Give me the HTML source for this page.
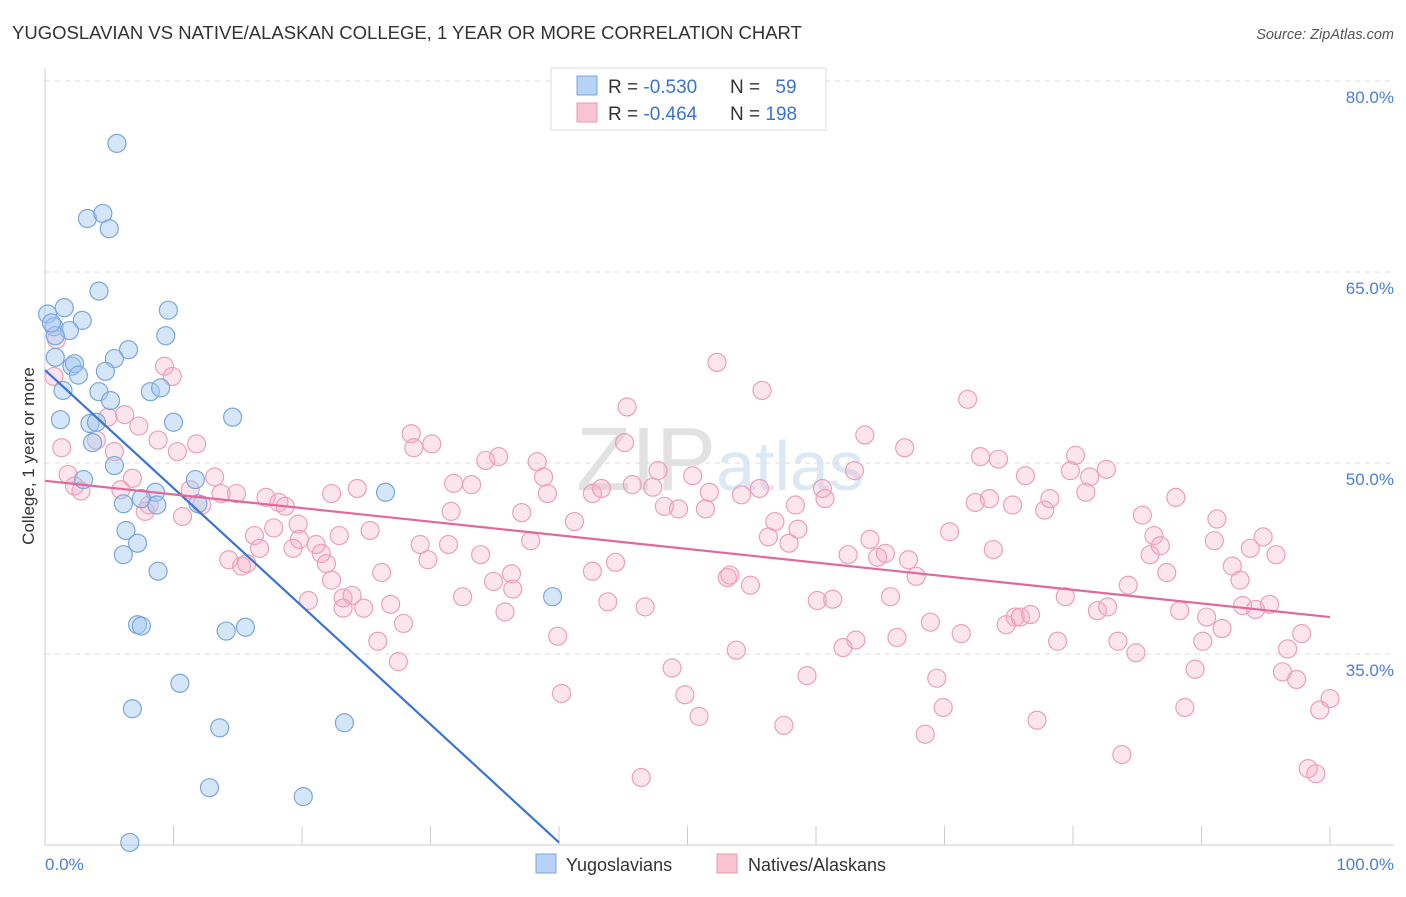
<!DOCTYPE html>
<html><head><meta charset="utf-8"><style>
body{margin:0;background:#fff;font-family:"Liberation Sans",sans-serif;}
svg text{font-family:"Liberation Sans",sans-serif;}
</style></head><body>
<svg id="chart" width="1406" height="892" viewBox="0 0 1406 892" xmlns="http://www.w3.org/2000/svg">
<text x="12" y="39" font-size="18.5" fill="#333">YUGOSLAVIAN VS NATIVE/ALASKAN COLLEGE, 1 YEAR OR MORE CORRELATION CHART</text>
<text x="1394" y="39" font-size="14.5" fill="#555" font-style="italic" text-anchor="end">Source: ZipAtlas.com</text>
<text x="720" y="490" font-size="90" fill="#e6e6e6" text-anchor="middle" font-family="Liberation Serif"><tspan fill="#e2e2e2">ZIP</tspan><tspan fill="#dce8f6" font-family="Liberation Sans" font-size="70">atlas</tspan></text>
<g id="grid"></g>
<g id="axes"></g>
<g id="pink"></g>
<g id="blue"></g>
<g id="lines"></g>
<text transform="translate(34,456) rotate(-90)" font-size="17" fill="#333" text-anchor="middle">College, 1 year or more</text>
<text x="45" y="870" font-size="17" fill="#4a7fd4">0.0%</text>
<text x="1394" y="870" font-size="17" fill="#4a7fd4" text-anchor="end">100.0%</text>
<g>
<rect x="551" y="68" width="275" height="62" fill="#fff" stroke="#ddd"/>
<rect x="577" y="76" width="20" height="19" fill="#b7d2f5" stroke="#7aa6dc"/>
<rect x="577" y="103" width="20" height="19" fill="#f8c4d3" stroke="#e89ab0"/>
<text x="608" y="93" font-size="19" fill="#333">R = <tspan fill="#3a74d0">-0.530</tspan></text>
<text x="730" y="93" font-size="19" fill="#333">N = <tspan fill="#3a74d0" dx="10">59</tspan></text>
<text x="608" y="120" font-size="19" fill="#333">R = <tspan fill="#3a74d0">-0.464</tspan></text>
<text x="730" y="120" font-size="19" fill="#333">N = <tspan fill="#3a74d0">198</tspan></text>
</g>
<g>
<rect x="536" y="854" width="20" height="19" fill="#b7d2f5" stroke="#7aa6dc"/>
<text x="566" y="871" font-size="18" fill="#333">Yugoslavians</text>
<rect x="717" y="854" width="20" height="19" fill="#f8c4d3" stroke="#e89ab0"/>
<text x="748" y="871" font-size="18" fill="#333">Natives/Alaskans</text>
</g>
</svg>
<script>
const yTicks=[80,65,50,35];
const yTickLabels=["80.0%","65.0%","50.0%","35.0%"];
const xTicks=[0,10,20,30,40,50,60,70,80,90,100];
const blueX=[5.6,3.3,4.5,5.0,4.2,1.5,0.2,2.9,9.6,0.7,1.9,0.8,9.4,6.5,5.4,0.8,2.1,2.3,4.7,2.6,1.4,4.2,8.2,9.0,5.1,1.2,3.5,4.0,10.0,14.6,3.7,5.4,3.0,11.7,8.6,26.5,7.5,6.1,11.9,8.7,6.3,7.2,6.1,8.8,39.5,7.2,7.5,14.1,15.6,10.5,6.8,23.3,13.6,12.8,20.1,6.6,0.5];
const blueY=[75.1,69.2,69.6,68.4,63.5,62.2,61.7,61.2,62.0,60.7,60.4,60.0,60.0,58.9,58.2,58.3,57.6,57.8,57.2,56.9,55.7,55.6,55.6,55.9,54.9,53.4,53.1,53.2,53.2,53.6,51.6,49.8,48.7,48.7,47.7,47.7,47.2,46.8,46.8,46.7,44.7,43.7,42.8,41.5,39.5,37.3,37.2,36.8,37.1,32.7,30.7,29.6,29.2,24.5,23.8,20.2,61.0];
const pinkX=[52.3,55.8,71.8,45.3,0.9,0.7,9.3,9.9,6.2,4.9,7.3,4.0,1.3,5.4,8.8,11.8,10.3,1.8,2.3,2.8,6.8,5.9,8.1,7.8,10.7,12.2,11.3,13.2,14.9,13.7,17.2,18.2,18.7,17.8,16.3,16.7,14.3,15.3,15.7,19.7,19.8,19.3,21.1,21.5,21.9,20.5,22.3,23.2,23.9,23.2,24.8,26.9,27.9,27.5,25.9,26.2,25.3,22.9,22.3,24.3,28.5,28.7,30.1,29.2,29.8,31.4,31.6,31.8,33.2,34.3,35.3,33.9,34.9,36.3,36.4,32.5,35.8,37.1,37.8,38.3,38.8,39.1,41.2,39.9,40.2,42.6,43.3,42.6,44.4,43.8,45.1,45.7,46.7,47.3,47.7,48.2,49.3,50.4,51.4,51.7,48.8,49.8,50.9,46.4,53.1,53.3,54.2,55.6,54.9,53.8,56.3,56.8,57.9,58.4,58.6,57.5,59.3,60.1,61.3,60.5,60.7,62.5,63.0,63.8,64.2,64.8,65.4,63.1,62.1,65.8,66.3,66.9,67.2,67.8,68.9,69.4,69.9,68.5,70.4,71.3,72.4,72.8,73.5,74.2,73.8,74.8,75.5,75.9,76.7,75.3,76.3,77.8,78.2,77.2,78.8,79.4,79.8,80.2,81.3,81.0,82.6,81.9,82.7,83.5,84.3,84.9,83.8,85.4,86.0,86.3,86.8,87.3,88.0,88.3,88.7,89.5,90.1,90.4,91.0,91.2,91.6,92.4,93.0,93.2,93.8,94.2,94.8,95.3,95.8,96.3,96.7,97.4,97.8,98.3,98.9,99.2,100];
const pinkY=[57.9,55.7,55.0,54.4,59.7,56.8,57.6,56.8,53.8,53.6,52.9,51.8,51.2,50.9,51.8,51.5,50.9,49.1,48.2,47.8,48.8,47.9,46.7,46.2,45.8,46.7,47.9,48.9,47.6,47.6,47.3,46.9,46.6,44.9,44.3,43.3,42.4,41.9,42.1,45.2,44.0,43.3,43.6,42.9,42.1,39.2,40.8,39.4,39.6,38.6,38.6,38.9,37.4,34.4,36.0,41.4,44.7,44.3,47.6,48.0,52.3,51.2,51.5,43.6,42.4,43.6,46.2,48.4,48.3,50.2,50.5,42.8,40.7,41.3,40.1,39.5,38.3,46.1,43.9,50.1,48.9,47.6,45.4,36.4,31.9,47.6,48.0,41.5,42.2,39.1,51.6,48.3,38.7,48.1,49.4,46.6,46.4,49.0,46.4,47.7,33.9,31.8,30.1,25.3,41.0,41.2,47.5,48.0,40.4,35.3,44.2,45.4,43.7,46.7,44.8,29.4,33.3,39.2,39.3,48.0,47.2,42.8,49.4,52.2,44.0,42.6,42.9,36.1,35.5,39.5,36.3,51.2,42.4,41.1,37.5,33.1,30.8,28.7,44.6,36.6,46.9,50.5,47.2,50.3,43.2,37.3,37.9,37.9,38.1,46.7,49.0,46.3,47.2,29.8,36.0,39.5,49.4,50.6,48.9,47.7,49.5,38.4,38.7,36.0,40.4,35.1,27.1,45.9,42.8,44.3,43.5,41.4,47.3,38.4,30.8,33.8,36.0,37.9,43.9,45.6,37.0,41.9,40.8,38.8,43.3,38.5,44.2,38.9,42.8,33.6,35.4,33.0,36.6,26.0,25.6,30.6,31.5];
const blueTrend=[[0,57.3],[40,20.2]];
const pinkTrend=[[0,48.6],[100,37.9]];
const NS="http://www.w3.org/2000/svg";
const X0=45,X1=1330,Y80=81,Y35=654;
function sx(v){return X0+(X1-X0)*v/100;}
function sy(v){return Y80+(80-v)*(Y35-Y80)/45;}
function mk(t,a,p){const e=document.createElementNS(NS,t);for(const k in a)e.setAttribute(k,a[k]);p.appendChild(e);return e;}
const grid=document.getElementById('grid'),axes=document.getElementById('axes');
yTicks.forEach((v,i)=>{
 const l=mk('line',{x1:45,x2:1394,y1:sy(v),y2:sy(v),stroke:'#ddd','stroke-dasharray':'5,5'},grid);
 
 
 const t=mk('text',{x:1394,y:sy(v)+22,'font-size':17,fill:'#4a7fd4','text-anchor':'end'},axes);
 t.textContent=yTickLabels[i];
 
 
});
const ax=mk('line',{x1:45,x2:1394,y1:845,y2:845,stroke:'#ccc'},axes);


const ay=mk('line',{x1:45,x2:45,y1:68,y2:845,stroke:'#ccc'},axes);


xTicks.forEach(v=>{
 const l=mk('line',{x1:sx(v),x2:sx(v),y1:826,y2:845,stroke:'#ccc'},axes);
 
 
});
const pg=document.getElementById('pink');
pinkX.forEach((v,i)=>{
 const c=mk('circle',{cx:sx(v),cy:sy(pinkY[i]),r:9,fill:'rgba(245,170,195,0.3)',stroke:'#eba0b8','stroke-width':1.2},pg);
 
 
});
const bg=document.getElementById('blue');
blueX.forEach((v,i)=>{
 const c=mk('circle',{cx:sx(v),cy:sy(blueY[i]),r:9,fill:'rgba(165,200,242,0.45)',stroke:'#7aa6dc','stroke-width':1.2},bg);
 
 
});
const lg=document.getElementById('lines');
const bl=mk('line',{x1:sx(blueTrend[0][0]),y1:sy(blueTrend[0][1]),x2:sx(blueTrend[1][0]),y2:sy(blueTrend[1][1]),stroke:'#3a74d8','stroke-width':2.2},lg);


const pl=mk('line',{x1:sx(pinkTrend[0][0]),y1:sy(pinkTrend[0][1]),x2:sx(pinkTrend[1][0]),y2:sy(pinkTrend[1][1]),stroke:'#e2689a','stroke-width':2.2},lg);


</script>
</body></html>
